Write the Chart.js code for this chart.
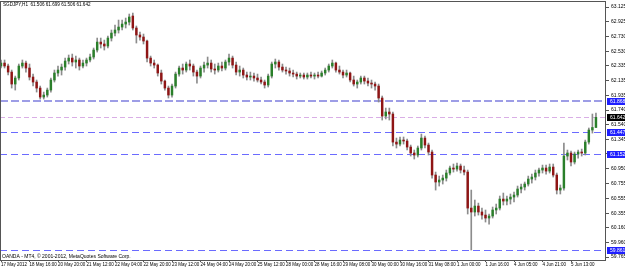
<!DOCTYPE html>
<html>
<head>
<meta charset="utf-8">
<script src="https://cdn.jsdelivr.net/npm/chart.js@4.4.1/dist/chart.umd.min.js"></script>
<style>
    html, body { margin: 0; padding: 0; background: #fff; }
    canvas { display: block; }
</style>
</head>
<body>
<canvas id="priceChart" width="625" height="268"></canvas>
<script>
// ====== DATOS ======
const symbol = "SGDJPY,H1";
const copyrightText = "OANDA - MT4, \u00a9 2001-2012, MetaQuotes Software Corp.";

const xTickLabels = ["17 May 2012", "18 May 16:00", "20 May 20:00", "21 May 12:00", "22 May 04:00",
    "22 May 20:00", "23 May 12:00", "24 May 04:00", "24 May 20:00", "25 May 12:00", "28 May 00:00",
    "28 May 16:00", "29 May 08:00", "30 May 00:00", "30 May 16:00", "31 May 08:00", "1 Jun 00:00",
    "1 Jun 16:00", "4 Jun 05:00", "4 Jun 21:00", "5 Jun 13:00"];

const yTickLabels = ["63.125", "62.925", "62.730", "62.530", "62.335", "62.135", "61.935", "61.740",
    "61.540", "61.345", "61.150", "60.950", "60.755", "60.555", "60.355", "60.160", "59.960", "59.765"];

const barOpen = [
    62.332, 62.372, 62.332, 62.251, 62.090, 62.171, 62.332, 62.372,
    62.305, 62.184, 62.117, 62.036, 61.915, 61.942, 62.009, 62.144,
    62.238, 62.278, 62.318, 62.399, 62.439, 62.386, 62.413, 62.332,
    62.372, 62.413, 62.453, 62.547, 62.654, 62.628, 62.601, 62.708,
    62.775, 62.816, 62.856, 62.896, 62.923, 63.004, 62.843, 62.749,
    62.722, 62.668, 62.439, 62.372, 62.345, 62.238, 62.130, 62.036,
    61.942, 62.063, 62.224, 62.305, 62.278, 62.359, 62.332, 62.251,
    62.197, 62.305, 62.345, 62.372, 62.292, 62.278, 62.332, 62.305,
    62.386, 62.439, 62.345, 62.251, 62.278, 62.211, 62.184, 62.197,
    62.171, 62.144, 62.117, 62.077, 62.197, 62.359, 62.386, 62.318,
    62.278, 62.265, 62.238, 62.224, 62.197, 62.211, 62.184, 62.211,
    62.197, 62.211, 62.197, 62.238, 62.278, 62.332, 62.372, 62.278,
    62.251, 62.211, 62.238, 62.144, 62.090, 62.117, 62.171, 62.130,
    62.103, 62.090, 62.063, 61.902, 61.660, 61.714, 61.687, 61.310,
    61.283, 61.337, 61.324, 61.243, 61.163, 61.136, 61.230, 61.364,
    61.270, 61.176, 60.867, 60.773, 60.800, 60.826, 60.894, 60.961,
    60.947, 60.988, 60.934, 60.907, 60.423, 60.370, 60.450, 60.370,
    60.329, 60.289, 60.316, 60.397, 60.423, 60.544, 60.517, 60.544,
    60.571, 60.598, 60.679, 60.706, 60.746, 60.813, 60.840, 60.894,
    60.934, 60.961, 60.920, 60.974, 60.867, 60.665, 60.692, 61.122,
    61.163, 61.042, 61.149, 61.176, 61.163, 61.310, 61.472, 61.506
];
const barHigh = [
    62.413, 62.413, 62.359, 62.278, 62.197, 62.359, 62.413, 62.399,
    62.359, 62.224, 62.144, 62.063, 61.982, 62.036, 62.171, 62.278,
    62.332, 62.359, 62.439, 62.480, 62.493, 62.466, 62.439, 62.413,
    62.439, 62.493, 62.574, 62.708, 62.708, 62.681, 62.735, 62.816,
    62.883, 62.950, 62.950, 62.977, 63.031, 63.044, 62.870, 62.789,
    62.762, 62.681, 62.466, 62.413, 62.359, 62.278, 62.144, 62.063,
    62.090, 62.251, 62.332, 62.359, 62.386, 62.413, 62.359, 62.278,
    62.332, 62.386, 62.453, 62.413, 62.359, 62.372, 62.386, 62.413,
    62.493, 62.466, 62.386, 62.332, 62.305, 62.251, 62.251, 62.238,
    62.224, 62.184, 62.144, 62.224, 62.386, 62.426, 62.413, 62.359,
    62.318, 62.305, 62.278, 62.251, 62.238, 62.238, 62.238, 62.251,
    62.238, 62.251, 62.265, 62.305, 62.359, 62.413, 62.386, 62.332,
    62.278, 62.278, 62.251, 62.197, 62.144, 62.197, 62.197, 62.171,
    62.144, 62.117, 62.090, 61.929, 61.767, 61.767, 61.714, 61.364,
    61.378, 61.378, 61.351, 61.270, 61.203, 61.257, 61.418, 61.391,
    61.297, 61.203, 60.907, 60.853, 60.867, 60.934, 60.988, 61.015,
    61.028, 61.015, 60.988, 60.934, 60.665, 60.531, 60.490, 60.423,
    60.397, 60.343, 60.437, 60.477, 60.585, 60.625, 60.585, 60.612,
    60.638, 60.719, 60.746, 60.773, 60.853, 60.880, 60.934, 60.961,
    61.001, 61.001, 61.015, 61.015, 60.894, 60.733, 61.297, 61.203,
    61.189, 61.176, 61.203, 61.216, 61.337, 61.499, 61.687, 61.699
];
const barLow = [
    62.305, 62.305, 62.211, 62.036, 62.009, 62.144, 62.305, 62.251,
    62.144, 62.063, 61.982, 61.888, 61.888, 61.915, 61.982, 62.117,
    62.197, 62.211, 62.278, 62.359, 62.332, 62.305, 62.278, 62.305,
    62.332, 62.386, 62.426, 62.520, 62.574, 62.547, 62.574, 62.668,
    62.735, 62.775, 62.816, 62.843, 62.883, 62.816, 62.641, 62.681,
    62.628, 62.386, 62.332, 62.305, 62.197, 62.090, 62.009, 61.902,
    61.915, 62.036, 62.197, 62.224, 62.251, 62.278, 62.197, 62.103,
    62.171, 62.251, 62.305, 62.251, 62.224, 62.251, 62.265, 62.278,
    62.345, 62.305, 62.211, 62.197, 62.171, 62.144, 62.144, 62.130,
    62.117, 62.090, 62.036, 62.050, 62.171, 62.305, 62.278, 62.251,
    62.224, 62.197, 62.184, 62.157, 62.171, 62.157, 62.157, 62.171,
    62.157, 62.171, 62.184, 62.211, 62.251, 62.305, 62.251, 62.224,
    62.171, 62.184, 62.117, 62.063, 62.036, 62.090, 62.090, 62.063,
    62.036, 62.009, 61.848, 61.606, 61.620, 61.606, 61.257, 61.230,
    61.257, 61.283, 61.203, 61.122, 61.082, 61.109, 61.203, 61.230,
    61.136, 60.826, 60.665, 60.719, 60.746, 60.786, 60.867, 60.907,
    60.920, 60.894, 60.867, 60.343, 59.859, 60.316, 60.329, 60.275,
    60.235, 60.208, 60.289, 60.343, 60.397, 60.464, 60.464, 60.477,
    60.504, 60.571, 60.625, 60.665, 60.719, 60.759, 60.800, 60.853,
    60.894, 60.880, 60.894, 60.840, 60.612, 60.612, 60.665, 61.069,
    60.988, 61.015, 61.095, 61.122, 61.136, 61.283, 61.431, 61.506
];
const barClose = [
    62.372, 62.332, 62.251, 62.090, 62.171, 62.332, 62.372, 62.305,
    62.184, 62.117, 62.036, 61.915, 61.942, 62.009, 62.144, 62.238,
    62.278, 62.318, 62.399, 62.439, 62.386, 62.413, 62.332, 62.372,
    62.413, 62.453, 62.547, 62.654, 62.628, 62.601, 62.708, 62.775,
    62.816, 62.856, 62.896, 62.923, 62.991, 62.843, 62.749, 62.722,
    62.668, 62.439, 62.372, 62.345, 62.238, 62.130, 62.036, 61.942,
    62.063, 62.224, 62.305, 62.278, 62.359, 62.332, 62.251, 62.197,
    62.305, 62.345, 62.372, 62.292, 62.278, 62.332, 62.305, 62.386,
    62.439, 62.345, 62.251, 62.278, 62.211, 62.184, 62.197, 62.171,
    62.144, 62.117, 62.077, 62.197, 62.359, 62.386, 62.318, 62.278,
    62.265, 62.238, 62.224, 62.197, 62.211, 62.184, 62.211, 62.197,
    62.211, 62.197, 62.238, 62.278, 62.332, 62.372, 62.278, 62.251,
    62.211, 62.238, 62.144, 62.090, 62.117, 62.171, 62.130, 62.103,
    62.090, 62.063, 61.902, 61.660, 61.714, 61.687, 61.310, 61.283,
    61.337, 61.324, 61.243, 61.163, 61.136, 61.230, 61.364, 61.270,
    61.176, 60.867, 60.773, 60.800, 60.826, 60.894, 60.961, 60.947,
    60.988, 60.934, 60.907, 60.423, 60.370, 60.450, 60.370, 60.329,
    60.289, 60.316, 60.397, 60.423, 60.544, 60.517, 60.544, 60.571,
    60.598, 60.679, 60.706, 60.746, 60.813, 60.840, 60.894, 60.934,
    60.961, 60.920, 60.974, 60.867, 60.665, 60.692, 61.122, 61.163,
    61.042, 61.149, 61.176, 61.163, 61.310, 61.472, 61.506, 61.642
];

// niveles horizontales (lineas del terminal)
const levelPrices = [61.868, 61.642, 61.447, 61.152, 59.861];
const levelKinds = ["trend", "bid", "line", "line", "line"];

// ====== ESTILOS ======
const BARS_PER_LABEL = 8;
const FONT = "Liberation Sans";
const UP_COLOR = "#2a7f2a";
const DOWN_COLOR = "#8f1515";
const WICK_COLOR = "#8c8c8c";
const levelStyle = {
    trend: { color: "#9d9de6", width: 2, dash: [8, 3], box: "#1f1fff" },
    bid:   { color: "#d9aee6", width: 1, dash: [5, 3], box: "#000000" },
    line:  { color: "#6b6bff", width: 1, dash: [7, 4], box: "#1f1fff" }
};

const wickData = barHigh.map((h, i) => ({ x: i, y: [barLow[i], h] }));
const bodyData = barOpen.map((o, i) => ({ x: i, y: [o, barClose[i]] }));
const bodyColors = barOpen.map((o, i) => barClose[i] >= o ? UP_COLOR : DOWN_COLOR);

const fmt = v => v.toFixed(3);

// ====== PLUGIN: lineas, marco, textos ======
const terminalPlugin = {
    id: "terminal",
    beforeDatasetsDraw(chart) {
        const { ctx, chartArea: a, scales: { y } } = chart;
        ctx.save();
        levelPrices.forEach((p, k) => {
            const st = levelStyle[levelKinds[k]];
            const py = Math.round(y.getPixelForValue(p)) + (st.width % 2 ? 0.5 : 0);
            ctx.strokeStyle = st.color;
            ctx.lineWidth = st.width;
            ctx.setLineDash(st.dash);
            ctx.beginPath();
            ctx.moveTo(a.left, py);
            ctx.lineTo(a.right, py);
            ctx.stroke();
        });
        ctx.restore();
    },
    afterDraw(chart) {
        const { ctx, chartArea: a, scales: { y } } = chart;
        ctx.save();
        // marco
        ctx.strokeStyle = "#555";
        ctx.lineWidth = 1;
        ctx.strokeRect(a.left + 0.5, a.top + 0.5, a.right - a.left - 1, a.bottom - a.top);

        // etiquetas de precio en el eje
        ctx.font = "5px '" + FONT + "'";
        ctx.textBaseline = "middle";
        ctx.textAlign = "left";
        levelPrices.forEach((p, k) => {
            const st = levelStyle[levelKinds[k]];
            const py = Math.round(y.getPixelForValue(p));
            ctx.fillStyle = st.box;
            ctx.fillRect(a.right + 1, py - 3, 20, 7);
            ctx.fillStyle = "#fff";
            ctx.fillText(fmt(p), a.right + 4, py + 0.5);
        });

        // cabecera y copyright
        const n = barClose.length - 1;
        ctx.fillStyle = "#000";
        ctx.font = "4.6px '" + FONT + "'";
        ctx.fillText(symbol + "  " + [barOpen[n], barHigh[n], barLow[n], barClose[n]].map(fmt).join(" "), a.left + 3, 5);
        ctx.font = "5px '" + FONT + "'";
        ctx.fillText(copyrightText, a.left + 2, 257);
        ctx.restore();
    }
};

// ====== GRAFICO ======
document.addEventListener("DOMContentLoaded", () => {
    new Chart(document.getElementById("priceChart"), {
        type: "bar",
        data: {
            datasets: [{
                data: bodyData,
                backgroundColor: bodyColors,
                barThickness: 1.8,
                minBarLength: 1,
                grouped: false,
                order: 0
            }, {
                data: wickData,
                backgroundColor: WICK_COLOR,
                barThickness: 1,
                grouped: false,
                order: 1
            }]
        },
        options: {
            responsive: false,
            animation: false,
            events: [],
            layout: { padding: { left: 0, top: 1, right: 0, bottom: 0 } },
            plugins: { legend: { display: false }, tooltip: { enabled: false } },
            scales: {
                x: {
                    type: "linear",
                    offset: false,
                    min: -0.281,
                    max: 169.82,
                    afterBuildTicks: s => { s.ticks = xTickLabels.map((_, k) => ({ value: k * BARS_PER_LABEL })); },
                    afterFit: s => { s.height = 8; s.paddingLeft = 0; s.paddingRight = 0; },
                    ticks: {
                        autoSkip: false,
                        maxRotation: 0,
                        align: "start",
                        padding: 0,
                        color: "#000",
                        font: { family: FONT, size: 4.5 },
                        callback: v => xTickLabels[Math.round(v / BARS_PER_LABEL)]
                    },
                    grid: { offset: false, drawOnChartArea: false, tickLength: 2, color: "#555" },
                    border: { display: false }
                },
                y: {
                    position: "right",
                    min: 59.725,
                    max: 63.206,
                    afterBuildTicks: s => { s.ticks = yTickLabels.map(t => ({ value: parseFloat(t) })); },
                    afterFit: s => { s.width = 19; s.paddingTop = 0; s.paddingBottom = 0; },
                    ticks: {
                        padding: 2,
                        color: "#000",
                        font: { family: FONT, size: 5 },
                        callback: (v, i) => yTickLabels[i]
                    },
                    grid: { drawOnChartArea: false, tickLength: 3, color: "#555" },
                    border: { display: false }
                }
            }
        },
        plugins: [terminalPlugin]
    });
});
</script>
</body>
</html>
